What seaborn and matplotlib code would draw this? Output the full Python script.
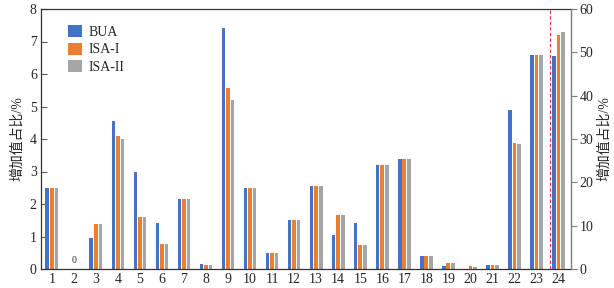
import matplotlib
matplotlib.use("Agg")
import matplotlib.pyplot as plt
import seaborn as sns
import pandas as pd
import numpy as np

categories = [str(i) for i in range(1, 25)]
series = ["BUA", "ISA-I", "ISA-II"]
bua    = [2.50, 0.00, 0.96, 4.55, 2.99, 1.42, 2.14, 0.16, 7.43, 2.48, 0.48, 1.52,
          2.56, 1.06, 1.41, 3.20, 3.40, 0.39, 0.10, 0.00, 0.12, 4.88, 6.60, 49.1]
isa_1  = [2.50, 0.00, 1.40, 4.10, 1.61, 0.77, 2.14, 0.12, 5.57, 2.48, 0.48, 1.52,
          2.56, 1.67, 0.75, 3.20, 3.40, 0.39, 0.19, 0.08, 0.12, 3.89, 6.60, 54.1]
isa_2  = [2.50, 0.00, 1.40, 3.99, 1.61, 0.77, 2.14, 0.12, 5.20, 2.48, 0.48, 1.52,
          2.56, 1.67, 0.75, 3.20, 3.40, 0.39, 0.19, 0.07, 0.12, 3.86, 6.60, 54.6]
right_axis_category = "24"
zero_label_category = "2"

colors = ["#4472C4", "#ED7D31", "#A5A5A5"]

rows = []
for s, vals in zip(series, [bua, isa_1, isa_2]):
    for c, v in zip(categories, vals):
        rows.append({"cat": c, "series": s, "value": v})
df = pd.DataFrame(rows)
left_df = df[df["cat"] != right_axis_category]
right_df = df[df["cat"] == right_axis_category]

sns.set_style("white")
plt.rcParams["font.family"] = ["Liberation Serif", "Noto Sans CJK SC"]

fig = plt.figure(figsize=(6.14, 2.88), dpi=100)
ax = fig.add_axes([41 / 614, 19 / 288, 530 / 614, 260 / 288])

bar_kw = dict(x="cat", y="value", hue="series", order=categories,
              hue_order=series, palette=colors, width=0.62, gap=0.2,
              saturation=1, errorbar=None, linewidth=0)
sns.barplot(data=left_df, ax=ax, **bar_kw)
ax2 = ax.twinx()
sns.barplot(data=right_df, ax=ax2, legend=False, **bar_kw)

ax.set_xlim(-0.49, 23.57)
ax.set_ylim(0, 8)
ax2.set_ylim(0, 60)
ax.set_yticks(range(0, 9))
ax2.set_yticks(range(0, 61, 10))

ax.set_xlabel("")
ax.set_ylabel("增加值占比/%", fontsize=10)
ax2.set_ylabel("增加值占比/%", fontsize=10, rotation=90, labelpad=3)
ax2.yaxis.set_label_position("right")

ax.tick_params(axis="y", direction="in", length=4, width=0.8, color="#555555",
               labelsize=10, pad=3, left=True)
ax.tick_params(axis="x", length=0, labelsize=10, pad=3)
ax2.tick_params(axis="y", direction="out", length=4, width=0.8, color="#7f7f7f",
                labelsize=10, pad=2, right=True)

for sp in ["top", "left", "bottom"]:
    ax.spines[sp].set_color("#333333")
    ax.spines[sp].set_linewidth(0.9)
    ax2.spines[sp].set_visible(False)
ax.spines["right"].set_visible(False)
ax2.spines["right"].set_color("#7f7f7f")
ax2.spines["right"].set_linewidth(1.0)
ax2.spines["right"].set_visible(True)

i24 = categories.index(right_axis_category)
ax.axvline(i24 - 0.38, color="#E03030", linestyle=(0, (3, 2)), linewidth=0.8)

i2 = categories.index(zero_label_category)
ax.text(i2, 0.12, "0", ha="center", va="bottom", fontsize=7)

leg = ax.legend(loc="upper left", bbox_to_anchor=(0.028, 0.985), frameon=False,
                fontsize=10, handlelength=0.95, handleheight=0.95,
                handletextpad=0.5, labelspacing=0.25)

fig.savefig("out.png", dpi=100)
